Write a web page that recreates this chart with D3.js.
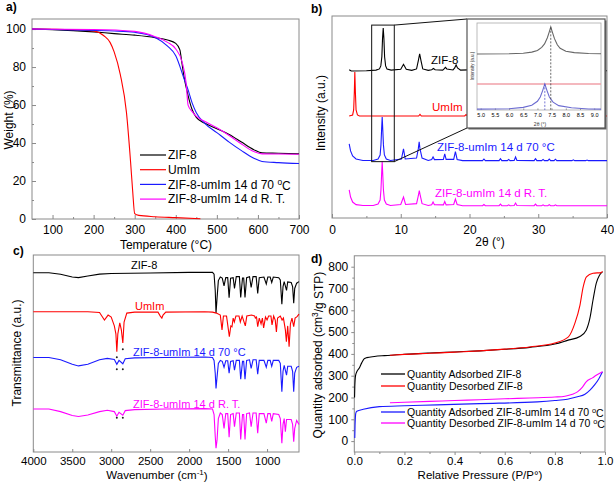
<!DOCTYPE html>
<html>
<head>
<meta charset="utf-8">
<script src="https://cdn.jsdelivr.net/npm/d3@7"></script>
<style>
body { margin: 0; background: #fff; }
text { font-family: "Liberation Sans", Arial, sans-serif; }
</style>
</head>
<body>
<svg id="fig" width="614" height="482"></svg>
<script>
// ---------- data ----------
const seriesNames = ["ZIF-8", "UmIm", "ZIF-8-umIm 14 d 70 °C", "ZIF-8-umIm 14 d R. T."];
const seriesColors = ["#000000", "#ff0000", "#1a1aff", "#ff00ff"];

// a) TGA: [temperature (°C), weight (%)]
const tgaZif8 = [[50,100],[100,99.7],[150,99.2],[200,98.5],[250,97.6],[300,96.8],[350,95.5],[380,94.2],[400,92.5],[410,89],[415,82],[420,75],[430,65],[440,57.5],[450,53.5],[470,50.5],[500,47.5],[530,44.5],[560,40.5],[590,36.5],[610,34.8],[650,34.6],[700,34.3]];
const tgaUmim = [[50,100],[150,99.7],[200,99],[225,96.5],[240,93],[250,88],[265,76],[280,56],[290,30],[295,15],[300,2.8],[310,1.9],[350,1.2],[400,0.7],[460,0.1]];
const tga70 = [[50,100],[150,99.5],[250,99],[300,98.3],[350,95.6],[380,91],[400,86],[420,74],[430,68],[440,61],[450,56],[470,50.5],[500,45.5],[530,40.5],[560,36],[590,32],[610,30.3],[650,29.7],[700,29.2]];
const tgaRT = [[50,100],[200,99.8],[300,98.8],[350,96],[380,93],[400,89.5],[415,83],[425,72],[430,60],[440,56.5],[450,54],[470,51.5],[500,48],[530,44],[560,39.5],[590,35.5],[610,34.3],[650,34.2],[700,34.1]];

// b) XRD: [2theta, relative intensity], plus vertical offset of each pattern
const xrdOffsets = [72.8, 50.5, 28.2, 5.9];
const xrdZif8 = [[2.5,0.6],[2.8,0],[5,0.1],[6.4,0.4],[6.9,1],[7.1,2.5],[7.25,7],[7.35,16],[7.45,21.3],[7.55,16],[7.65,7],[7.8,2.5],[8.0,1],[8.6,0.4],[10.0,0.8],[10.4,3.3],[10.8,0.8],[11.6,0.3],[12.3,1],[12.55,5],[12.75,8.4],[12.95,5],[13.2,1],[14.0,0.3],[14.5,0.6],[14.75,1.2],[15.0,0.6],[16.1,0.4],[16.3,1],[16.5,1.8],[16.7,1],[17.6,0.5],[17.85,1.5],[18.05,3],[18.25,1.5],[18.7,0.4],[22.1,0.8],[22.4,0.2],[24.5,0.8],[24.8,0.2],[26.7,1.2],[27,0.2],[29.6,0.7],[29.9,0.2],[32.4,0.6],[32.7,0.1],[40,0.1]];
const xrdUmim = [[2.5,0],[3.0,0.5],[3.15,3],[3.25,12],[3.32,21.8],[3.4,12],[3.5,3],[3.7,0.5],[4.0,0],[12.6,0],[12.8,0.8],[13.0,0],[19.3,0],[19.5,0.7],[19.7,0],[40,0]];
const xrd70 = [[2.5,8.5],[2.7,5],[3.0,2.5],[3.5,1],[4.5,0.3],[6.0,0.3],[6.7,1],[7.0,3],[7.12,8],[7.22,16],[7.3,21.8],[7.38,16],[7.48,8],[7.62,3],[7.9,1],[8.5,0.3],[10.1,1],[10.4,6],[10.65,1],[12.3,1.5],[12.55,6],[12.68,9.5],[12.8,6],[13.1,1.5],[14.0,0.3],[14.5,0.7],[14.7,2],[14.9,0.7],[16.2,0.8],[16.4,3.5],[16.6,0.8],[17.7,0.8],[17.95,4.6],[18.2,0.8],[19.0,0.2],[21.9,0.2],[22.1,1],[22.3,0.2],[24.3,0.2],[24.5,1.2],[24.7,0.2],[25.5,0.2],[25.7,0.8],[25.9,0.2],[26.5,0.3],[26.7,2],[26.9,0.3],[29.4,0.2],[29.6,1.2],[29.8,0.2],[30.5,0.2],[30.7,0.8],[30.9,0.2],[31.4,0.2],[31.6,1],[31.8,0.2],[32.3,0.2],[32.5,0.9],[32.7,0.2],[34.9,0.2],[35.1,0.6],[35.3,0.2],[36.9,0.2],[37.1,0.5],[37.3,0.2],[40,0.2]];
const xrdRT = [[2.5,8],[2.7,4.5],[3.0,2],[3.5,0.7],[4.5,0.3],[6.0,0.3],[6.7,1],[7.0,3],[7.12,8],[7.22,16],[7.3,22],[7.38,16],[7.48,8],[7.62,3],[7.9,1],[8.5,0.3],[10.0,0.8],[10.4,4.5],[10.7,0.8],[12.3,1.2],[12.55,5],[12.7,7.6],[12.85,5],[13.1,1.2],[14.0,0.3],[14.5,0.7],[14.7,2],[14.9,0.7],[16.2,0.6],[16.4,2.3],[16.6,0.6],[17.7,0.8],[17.95,3.5],[18.2,0.8],[19.0,0.2],[21.9,0.2],[22.1,0.8],[22.3,0.2],[24.3,0.2],[24.5,1],[24.7,0.2],[25.5,0.2],[25.7,0.6],[25.9,0.2],[26.5,0.3],[26.7,1.5],[26.9,0.3],[29.4,0.2],[29.6,1],[29.8,0.2],[30.5,0.2],[30.7,0.6],[30.9,0.2],[31.4,0.2],[31.6,0.7],[31.8,0.2],[32.3,0.2],[32.5,0.6],[32.7,0.2],[40,0.2]];
// zoomed window [2θ from, 2θ to, intensity from, intensity to]
const zoomBox = [5.77, 9.06, 27.9, 95.5];

// b) inset
const insetTicks = [5.0, 5.5, 6.0, 6.5, 7.0, 7.5, 8.0, 8.5, 9.0];
const insetZif8 = [[4.87,64.4],[6.0,64.6],[6.5,65.2],[6.8,66.5],[7.0,68.5],[7.15,72],[7.25,76],[7.35,83],[7.42,90],[7.47,95.4],[7.52,90],[7.6,82],[7.7,75],[7.8,71],[8.0,67.5],[8.3,66],[8.8,65],[9.24,64.6]];
const insetUmim = [[4.87,29.9],[9.24,29.9]];
const inset70 = [[4.87,1],[6.0,1.5],[6.5,3],[6.8,5.5],[7.0,10],[7.1,15],[7.18,22],[7.26,30],[7.34,22],[7.42,15],[7.55,9],[7.75,5],[8.2,2.5],[8.8,1.2],[9.24,1]];
const insetPeaks = [7.47, 7.26];

// c) FTIR: [wavenumber (cm-1), transmittance (a.u.)]
const irZif8 = [[4000,91],[3800,91],[3650,90.2],[3500,88.8],[3420,88.5],[3300,89.3],[3150,90.3],[3000,90.6],[2500,90.9],[2000,91.2],[1700,91.2],[1680,90.3],[1665,82],[1655,70.6],[1642,78],[1625,87],[1600,88.8],[1575,88.3],[1552,84.3],[1530,88.5],[1505,88.5],[1487,78.3],[1468,88.2],[1435,88.5],[1418,83],[1395,89],[1355,89],[1338,78.5],[1315,88.3],[1300,88.3],[1283,78.5],[1262,88.5],[1225,89],[1204,83.5],[1180,89],[1140,89],[1120,80.5],[1100,88.5],[1040,88.8],[1010,85.3],[990,88.8],[960,88.8],[940,86],[920,88.8],[850,88.5],[830,87.3],[810,75],[795,84],[780,86.5],[750,82],[735,86.3],[690,86],[672,84],[658,75.5],[645,83],[620,85.7],[590,86.5]];
const irUmim = [[4000,71.2],[3300,71.2],[3150,70.8],[3087,67],[3040,69.5],[3000,68.5],[2960,64],[2940,60],[2928,50.9],[2915,60],[2890,65.5],[2870,62],[2851,55.3],[2835,66],[2800,70.5],[2700,71],[2400,71],[2370,69],[2350,68],[2335,69.5],[2300,71],[1800,71.2],[1700,71],[1650,70.5],[1600,69.5],[1578,62],[1560,69],[1520,69],[1484,58.5],[1465,64],[1450,63.6],[1435,68],[1420,66],[1400,69],[1360,69],[1343,66],[1320,69],[1279,64],[1260,69],[1200,69.5],[1160,69],[1150,68],[1135,68.5],[1120,63.6],[1100,68],[1077,65],[1060,68],[1044,63],[1020,68.5],[1000,67],[980,69],[950,69],[936,64.5],[915,69],[895,67],[880,61],[865,68],[830,69],[807,67],[790,68],[765,62],[752,56],[735,64],[717,53.5],[700,65],[680,68],[658,63.6],[640,68],[615,68.7],[590,70]];
const ir70 = [[4000,48],[3800,48],[3650,46.8],[3500,44.5],[3420,43.7],[3300,44.5],[3150,46.8],[3050,47.5],[2960,47],[2928,44.5],[2900,46.5],[2851,44.8],[2820,47.3],[2700,47.8],[2300,48],[1800,48.2],[1700,48],[1680,46.5],[1665,40],[1655,32.3],[1642,38],[1625,45],[1600,46.5],[1575,46],[1552,43],[1530,46.3],[1505,46.3],[1487,40],[1468,46],[1435,46.3],[1418,41.5],[1395,46.5],[1355,46.5],[1338,37],[1315,46],[1300,46],[1283,37],[1262,46.5],[1225,46.8],[1204,42.5],[1180,46.8],[1140,46.8],[1120,39.5],[1100,46.5],[1040,46.5],[1010,43],[990,46.5],[960,46.5],[940,43.5],[920,46.5],[850,46.5],[830,45],[810,30.6],[795,41],[780,44],[750,39],[735,43.5],[690,43.5],[672,41],[658,30.6],[645,40],[620,43],[590,43.5]];
const irRT = [[4000,21.8],[3800,21.8],[3650,20.5],[3500,18.5],[3420,18],[3300,18.8],[3150,20.5],[3050,21.2],[2960,20.5],[2928,18.2],[2900,20.2],[2851,18.7],[2820,21],[2700,21.5],[2300,21.8],[1800,22],[1700,21.8],[1680,19],[1665,8],[1655,1.9],[1642,6],[1625,17],[1600,19.8],[1575,19],[1552,12],[1530,19.5],[1505,19.5],[1487,7.5],[1468,19],[1435,19.5],[1418,12.8],[1395,19.8],[1355,19.8],[1338,6.4],[1315,19],[1300,19],[1283,6.4],[1262,19.5],[1225,19.8],[1204,12.8],[1180,19.8],[1140,19.8],[1120,9.5],[1100,19.5],[1040,19.5],[1010,14.6],[990,19.5],[960,19.5],[940,15.5],[920,19.5],[850,19],[830,17],[810,4.4],[795,14],[780,17],[765,10.3],[750,16.5],[690,16.5],[672,14],[658,5.2],[645,12],[620,16],[590,14]];
// asterisks marking the umIm C-H bands
const irStars = [[2928,48.1],[2851,52.1],[2928,42],[2851,42],[2928,17.4],[2851,17.4]];

// d) N2 isotherms: [P/P0, quantity (cm3/g STP)]
const adsZif8 = [[0.001,200],[0.002,250],[0.005,300],[0.01,318],[0.02,335],[0.03,360],[0.04,378],[0.05,383],[0.08,388],[0.12,392],[0.2,398],[0.3,404],[0.4,409],[0.5,414],[0.6,421],[0.7,430],[0.8,445],[0.85,462],[0.9,480],[0.925,509],[0.94,565],[0.952,646],[0.965,724],[0.978,761],[0.99,776]];
const desZif8 = [[0.142,394],[0.2,398],[0.3,403],[0.4,408],[0.5,414],[0.6,422],[0.7,432],[0.8,450],[0.854,478],[0.88,541],[0.9,623],[0.913,707],[0.926,753],[0.952,770],[0.985,773],[0.99,779]];
const ads70 = [[0.002,14],[0.003,70],[0.004,100],[0.006,128],[0.01,137],[0.036,146],[0.1,158],[0.2,162],[0.33,166],[0.5,172],[0.73,180],[0.8,186],[0.85,192],[0.89,203],[0.92,215],[0.94,234],[0.96,260],[0.975,285],[0.99,318]];
const des70 = [[0.142,176],[0.2,178],[0.3,182],[0.4,186],[0.5,190],[0.6,194],[0.7,198],[0.8,202],[0.84,206],[0.87,215],[0.89,226],[0.91,248],[0.925,272],[0.95,290],[0.965,302],[0.99,318]];
const betNames = ["Quantity Adsorbed ZIF-8", "Quantity Desorbed ZIF-8", "Quantity Adsorbed ZIF-8-umIm 14 d 70 ", "Quantity Desorbed ZIF-8-umIm 14 d 70 "];

// ---------- drawing ----------
const svg = d3.select("#fig");
const gray = "#8a8a8a";

function frame(x0, x1, y0, y1) {
	svg.append("rect")
		.attr("x", x0).attr("y", y0)
		.attr("width", x1 - x0).attr("height", y1 - y0)
		.attr("fill", "none")
		.attr("stroke", gray)
		.attr("stroke-width", 1);
}

function styleAxis(g, size) {
	g.select(".domain").remove();
	g.selectAll(".tick line").attr("stroke", gray);
	g.selectAll(".tick text").attr("fill", "#000").style("font-size", (size || 12) + "px");
	return g;
}

function trace(data, x, y, color, curve, off) {
	off = off || 0;
	svg.append("path")
		.datum(data)
		.attr("fill", "none")
		.attr("stroke", color)
		.attr("stroke-width", 1.1)
		.attr("d", d3.line()
			.x(function(d) { return x(d[0]); })
			.y(function(d) { return y(d[1] + off); })
			.curve(curve || d3.curveLinear));
}

function label(x, y, str, opts) {
	opts = opts || {};
	let t = svg.append("text")
		.attr("x", x).attr("y", y)
		.attr("fill", opts.color || "#000")
		.style("font-size", (opts.size || 12) + "px")
		.style("font-weight", opts.bold ? "bold" : "normal")
		.style("text-anchor", opts.anchor || "start")
		.text(str);
	return t;
}

function vlabel(x, y, str) {
	return svg.append("text")
		.attr("transform", "translate(" + x + "," + y + ") rotate(-90)")
		.attr("dominant-baseline", "central")
		.style("font-size", "12px")
		.style("text-anchor", "middle")
		.text(str);
}

function sup(t, s) {
	t.append("tspan").attr("dy", "-0.4em").style("font-size", "0.7em").text(s);
	return t;
}

// ===== a) TGA =====
let ax = d3.scaleLinear().domain([50, 700]).range([32, 299]);
let ay = d3.scaleLinear().domain([0, 105.3]).range([219, 19]);

styleAxis(svg.append("g").attr("transform", "translate(0,219)")
	.call(d3.axisBottom(ax).tickValues([100, 200, 300, 400, 500, 600, 700]).tickSize(-4).tickPadding(6)));
styleAxis(svg.append("g").attr("transform", "translate(0,219)")
	.call(d3.axisBottom(ax).tickValues([150, 250, 350, 450, 550, 650]).tickSize(-2).tickFormat("")));
styleAxis(svg.append("g").attr("transform", "translate(32,0)")
	.call(d3.axisLeft(ay).tickValues([0, 20, 40, 60, 80, 100]).tickSize(-4).tickPadding(6)));
styleAxis(svg.append("g").attr("transform", "translate(32,0)")
	.call(d3.axisLeft(ay).tickValues([10, 30, 50, 70, 90]).tickSize(-2).tickFormat("")));
frame(32, 299, 19, 219);

[tgaZif8, tgaUmim, tga70, tgaRT].forEach(function(s, i) {
	trace(s, ax, ay, seriesColors[i], d3.curveMonotoneX);
});

// legend a
seriesNames.forEach(function(n, i) {
	let ly = 155 + i * 14.7;
	svg.append("line").attr("x1", 140).attr("x2", 166).attr("y1", ly).attr("y2", ly)
		.attr("stroke", seriesColors[i]).attr("stroke-width", 1.2);
	if (i == 2) {
		let t = label(168, ly + 4.3, "ZIF-8-umIm 14 d 70 ");
		sup(t, "o");
		t.append("tspan").attr("dy", "0.4em").text("C");
	} else {
		label(168, ly + 4.3, n);
	}
});

label(6, 11, "a)", {bold: true});
label(166, 249, "Temperature (°C)", {anchor: "middle"});
vlabel(9, 120, "Weight (%)");

// ===== b) XRD =====
let bx = d3.scaleLinear().domain([0, 40]).range([332, 607]);
let by = d3.scaleLinear().domain([0, 100]).range([218, 16]);

styleAxis(svg.append("g").attr("transform", "translate(0,218)")
	.call(d3.axisBottom(bx).tickValues([0, 10, 20, 30, 40]).tickSize(-4).tickPadding(7)));
styleAxis(svg.append("g").attr("transform", "translate(0,218)")
	.call(d3.axisBottom(bx).tickValues([5, 15, 25, 35]).tickSize(-2).tickFormat("")));
frame(332, 607, 16, 218);

[xrdZif8, xrdUmim, xrd70, xrdRT].forEach(function(s, i) {
	trace(s, bx, by, seriesColors[i], d3.curveLinear, xrdOffsets[i]);
});

// zoom window and connectors
let zx0 = bx(zoomBox[0]), zx1 = bx(zoomBox[1]), zy0 = by(zoomBox[3]), zy1 = by(zoomBox[2]);
svg.append("rect").attr("x", zx0).attr("y", zy0).attr("width", zx1 - zx0).attr("height", zy1 - zy0)
	.attr("fill", "none").attr("stroke", "#111").attr("stroke-width", 1);

// inset
let ix = d3.scaleLinear().domain([4.87, 9.24]).range([477, 601]);
let iy = d3.scaleLinear().domain([0, 100]).range([110, 23]);
svg.append("line").attr("x1", zx1).attr("y1", zy0).attr("x2", 467).attr("y2", 19).attr("stroke", "#111");
svg.append("line").attr("x1", zx1).attr("y1", zy1).attr("x2", 467).attr("y2", 128).attr("stroke", "#111");
svg.append("rect").attr("x", 468.5).attr("y", 20.5).attr("width", 138).attr("height", 109).attr("fill", "#666");
svg.append("rect").attr("x", 467).attr("y", 19).attr("width", 138).attr("height", 109)
	.attr("fill", "#fff").attr("stroke", "#555").attr("stroke-width", 1.2);

styleAxis(svg.append("g").attr("transform", "translate(0,110)")
	.call(d3.axisBottom(ix).tickValues(insetTicks).tickSize(-1.5).tickPadding(3).tickFormat(d3.format(".1f"))), 5.5);
svg.append("rect").attr("x", 477).attr("y", 23).attr("width", 124).attr("height", 87)
	.attr("fill", "none").attr("stroke", "#aaa").attr("stroke-width", 0.8);

trace(insetZif8, ix, iy, "#666");
svg.append("path").datum(insetUmim).attr("fill", "none").attr("stroke", "#f0a0a8").attr("stroke-width", 1.6)
	.attr("d", d3.line().x(function(d) { return ix(d[0]); }).y(function(d) { return iy(d[1]); }));
trace(inset70, ix, iy, "#6b6bd0");

svg.append("line").attr("x1", ix(insetPeaks[0])).attr("x2", ix(insetPeaks[0]))
	.attr("y1", iy(95)).attr("y2", 110).attr("stroke", "#444").attr("stroke-width", 0.8).attr("stroke-dasharray", "2,1.5");
svg.append("line").attr("x1", ix(insetPeaks[1])).attr("x2", ix(insetPeaks[1]))
	.attr("y1", iy(30)).attr("y2", 110).attr("stroke", "#5555cc").attr("stroke-width", 0.8).attr("stroke-dasharray", "2,1.5");

svg.append("text").attr("transform", "translate(472,66) rotate(-90)")
	.attr("dominant-baseline", "central").style("font-size", "4.5px").style("text-anchor", "middle")
	.attr("fill", "#333").text("Intensity (a.u.)");
label(540, 126, "2θ (°)", {size: 5, anchor: "middle", color: "#333"});

// pattern names, drawn after the inset so they stay visible
label(431, 64, seriesNames[0], {color: seriesColors[0], size: 11.5});
label(432, 111, seriesNames[1], {color: seriesColors[1], size: 11.5});
label(437, 151, seriesNames[2], {color: seriesColors[2], size: 11.5});
label(435, 197, seriesNames[3], {color: seriesColors[3], size: 11.5});

label(311, 13, "b)", {bold: true});
label(490, 246, "2θ (°)", {anchor: "middle"});
vlabel(321, 113, "Intensity (a.u.)");

// ===== c) FTIR =====
let cx = d3.scaleLinear().domain([4000, 590]).range([33.3, 299]);
let cy = d3.scaleLinear().domain([0, 100]).range([452, 255]);

styleAxis(svg.append("g").attr("transform", "translate(0,452)")
	.call(d3.axisBottom(cx).tickValues([4000, 3500, 3000, 2500, 2000, 1500, 1000]).tickSize(-3).tickPadding(4.5).tickFormat(d3.format("d"))), 11.5);
frame(33.3, 299, 255, 452);

[irZif8, irUmim, ir70, irRT].forEach(function(s, i) {
	trace(s, cx, cy, seriesColors[i]);
});
svg.selectAll(".star").data(irStars).enter().append("circle")
	.attr("class", "star")
	.attr("cx", function(d) { return cx(d[0]); })
	.attr("cy", function(d) { return cy(d[1]); })
	.attr("r", 1)
	.attr("fill", "#222");

label(131, 269, seriesNames[0], {color: seriesColors[0], size: 11});
label(135, 310, seriesNames[1], {color: seriesColors[1], size: 11});
label(133, 356, seriesNames[2], {color: seriesColors[2], size: 11});
label(133, 408, seriesNames[3], {color: seriesColors[3], size: 11});

label(13, 255, "c)", {bold: true});
let wt = label(157, 478.5, "Wavenumber (cm", {anchor: "middle", size: 11.5});
sup(wt, "-1");
wt.append("tspan").attr("dy", "0.4em").text(")");
vlabel(17, 353, "Transmittance (a.u.)");

// ===== d) isotherms =====
let dx = d3.scaleLinear().domain([0, 1]).range([354.3, 605]);
let dy = d3.scaleLinear().domain([-50, 850]).range([452, 255.8]);

styleAxis(svg.append("g").attr("transform", "translate(0,452)")
	.call(d3.axisBottom(dx).tickValues([0, 0.2, 0.4, 0.6, 0.8, 1.0]).tickSize(3).tickPadding(1.5).tickFormat(d3.format(".1f"))), 11.5);
styleAxis(svg.append("g").attr("transform", "translate(0,452)")
	.call(d3.axisBottom(dx).tickValues([0.1, 0.3, 0.5, 0.7, 0.9]).tickSize(2).tickFormat("")));
styleAxis(svg.append("g").attr("transform", "translate(354.3,0)")
	.call(d3.axisLeft(dy).tickValues([0, 100, 200, 300, 400, 500, 600, 700, 800]).tickSize(3).tickPadding(3)));
styleAxis(svg.append("g").attr("transform", "translate(354.3,0)")
	.call(d3.axisLeft(dy).tickValues([50, 150, 250, 350, 450, 550, 650, 750]).tickSize(2).tickFormat("")));
frame(354.3, 605, 255.8, 452);

[adsZif8, desZif8, ads70, des70].forEach(function(s, i) {
	trace(s, dx, dy, seriesColors[i], d3.curveMonotoneX);
});

// legend d
[374, 386, 412, 423].forEach(function(ly, i) {
	svg.append("line").attr("x1", 381).attr("x2", 405).attr("y1", ly).attr("y2", ly)
		.attr("stroke", seriesColors[i]).attr("stroke-width", 1.3);
	let t = label(407, ly + 3.8, betNames[i], {size: 10.5});
	if (i >= 2) {
		sup(t, "o");
		t.append("tspan").attr("dy", "0.4em").text("C");
	}
});

label(311, 263, "d)", {bold: true});
let rp = label(480, 478.5, "Relative Pressure (P/P", {anchor: "middle", size: 11.5});
rp.append("tspan").text("°)");
let qt = vlabel(318, 355, "Quantity adsorbed (cm");
sup(qt, "3");
qt.append("tspan").attr("dy", "0.4em").text("/g STP)");
</script>
</body>
</html>
